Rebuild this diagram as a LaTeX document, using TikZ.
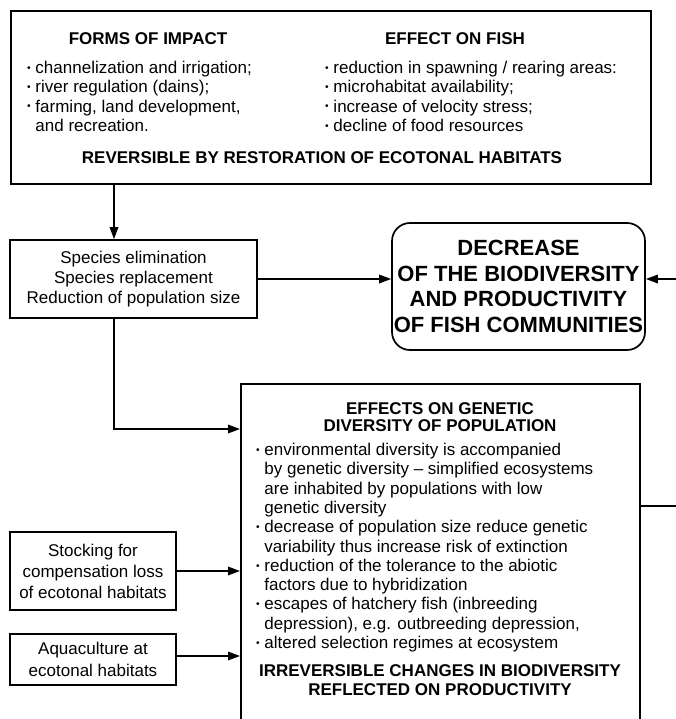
\documentclass[tikz,border=0pt]{standalone}
\usepackage{fontspec}
\setmainfont{Liberation Sans}
\usepackage{graphicx}
\usetikzlibrary{arrows.meta,calc}
\newcommand\bul{\raisebox{0.25ex}{\scalebox{0.6}{\textbullet}}\ }
\newcommand\ind{\phantom{\bul}}
\begin{document}
\begin{tikzpicture}[x=1pt,y=-1pt,
  frame/.style={draw, line width=1.7pt, inner sep=0pt},
  arr/.style={line width=1.7pt, -{Triangle[length=12pt,width=8.5pt]}},
  body/.style={inner sep=0pt, font=\fontsize{17}{19.3}\selectfont},
  head/.style={inner sep=0pt, font=\fontsize{17}{17}\selectfont\bfseries},
  boxtext/.style={frame, align=center, font=\fontsize{17}{20}\selectfont}]
\useasboundingbox (0,0) rectangle (676,719);

% impact / effect panel
\node[frame, anchor=north west, minimum width=640, minimum height=173] (top) at (10,10) {};
\node[head] (hImpact) at (148,39) {FORMS OF IMPACT};
\node[head] (hFish) at (455,39) {EFFECT ON FISH};
\node[body, anchor=north west, align=left] (lImpact) at (27,61)
  {\bul channelization and irrigation;\\
   \bul river regulation (dains);\\
   \bul farming, land development,\\
   \ind and recreation.};
\node[body, anchor=north west, align=left] (lFish) at (325,61)
  {\bul reduction in spawning / rearing areas:\\
   \bul microhabitat availability;\\
   \bul increase of velocity stress;\\
   \bul decline of food resources};
\node[head] (hRev) at (322,158) {REVERSIBLE BY RESTORATION OF ECOTONAL HABITATS};

% species box
\node[boxtext, minimum width=247, minimum height=78] (spec) at (133.5,279)
  {Species elimination\\Species replacement\\Reduction of population size};

% central result
\node[frame, rounded corners=18pt, minimum width=253, minimum height=127, align=center,
  font=\fontsize{22}{25.5}\selectfont\bfseries] (dec) at (518.5,286.5)
  {DECREASE\\OF THE BIODIVERSITY\\AND PRODUCTIVITY\\OF FISH COMMUNITIES};

% genetic diversity panel (open at the bottom)
\node[frame, anchor=north west, minimum width=399, minimum height=380] (gen) at (240,383) {};
\node[head, align=center, font=\fontsize{17}{16.5}\selectfont\bfseries] (hGen) at (440,417)
  {EFFECTS ON GENETIC\\DIVERSITY OF POPULATION};
\node[body, anchor=north west, align=left] (lGen) at (256,443)
  {\bul environmental diversity is accompanied\\
   \ind by genetic diversity -- simplified ecosystems\\
   \ind are inhabited by populations with low\\
   \ind genetic diversity\\
   \bul decrease of population size reduce genetic\\
   \ind variability thus increase risk of extinction\\
   \bul reduction of the tolerance to the abiotic\\
   \ind factors due to hybridization\\
   \bul escapes of hatchery fish (inbreeding\\
   \ind depression), e.g. outbreeding depression,\\
   \bul altered selection regimes at ecosystem};
\node[head, align=center, font=\fontsize{17}{19}\selectfont\bfseries] (hIrr) at (440,680)
  {IRREVERSIBLE CHANGES IN BIODIVERSITY\\REFLECTED ON PRODUCTIVITY};

% side inputs
\node[boxtext, minimum width=166, minimum height=78, font=\fontsize{17}{21}\selectfont] (stock) at (93,571)
  {Stocking for\\compensation loss\\of ecotonal habitats};
\node[boxtext, minimum width=166, minimum height=51, font=\fontsize{17}{22}\selectfont] (aqua) at (93,659.5)
  {Aquaculture at\\ecotonal habitats};

% connectors
\coordinate (drop) at ($(top.south west)+(104,0)$);
\draw[arr] (drop) -- (drop |- spec.north);
\draw[arr] (spec.east) -- (spec.east -| dec.west);
\coordinate (spOut) at (drop |- spec.south);
\coordinate (genIn) at ($(gen.north west)+(0,46)$);
\draw[arr] (spOut) |- (genIn);
\draw[arr] (stock.east) -- (stock.east -| gen.west);
\coordinate (aqOut) at ($(aqua.east)+(0,-3.5)$);
\draw[arr] (aqOut) -- (aqOut -| gen.west);
\coordinate (genOut) at ($(gen.north east)+(0,123)$);
\coordinate (decIn) at ($(dec.east)+(0,-7.5)$);
\coordinate (loop) at (700,0);
\draw[arr] (genOut) -- (genOut -| loop) -- (decIn -| loop) -- (decIn);
\end{tikzpicture}
\end{document}
